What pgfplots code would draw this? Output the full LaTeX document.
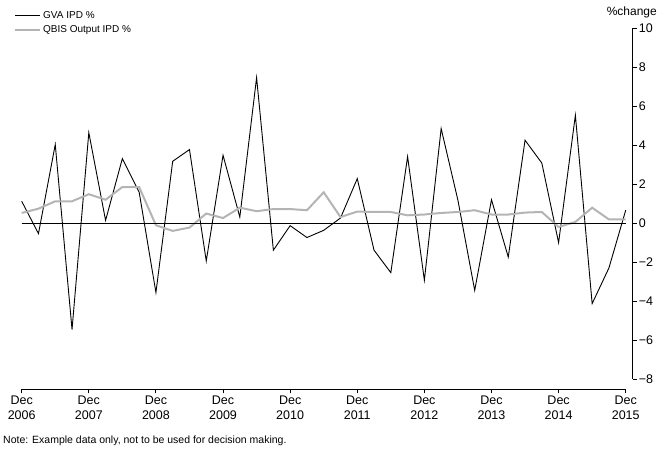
\documentclass[border=0pt]{standalone}
\usepackage{pgfplots}
\pgfplotsset{compat=1.18}
\usepackage{fontspec}
\setmainfont{Liberation Sans}
\definecolor{qbis}{RGB}{180,180,180}
\begin{document}
\begin{tikzpicture}
\begin{axis}[
  at={(0pt,0pt)}, anchor=south west,
  scale only axis, width=611pt, height=361.2pt,
  xmin=0, xmax=36.417, ymin=-8.523, ymax=10,
  axis x line*=bottom, axis y line*=right,
  axis line style={line width=0.9pt, -},
  x axis line style={shorten >=7pt},
  y axis line style={shorten <=10.2pt},
  xtick={0,4,...,36},
  xticklabels={Dec\\2006,Dec\\2007,Dec\\2008,Dec\\2009,Dec\\2010,Dec\\2011,Dec\\2012,Dec\\2013,Dec\\2014,Dec\\2015},
  xticklabel style={align=center, font=\fontsize{12.5}{15}\selectfont, inner sep=2pt},
  ytick={-8,-6,...,10},
  yticklabels={−8,−6,−4,−2,0,2,4,6,8,10},
  yticklabel style={font=\fontsize{12.5}{14}\selectfont, inner sep=2pt},
  tick align=outside, tick style={black, line width=0.9pt},
  major tick length=4pt,
  xtick pos=bottom, ytick pos=right,
  legend style={at={(rel axis cs:0,1)}, anchor=north west, xshift=-7.7pt, yshift=19pt,
    draw=none, fill=none, inner sep=0pt, row sep=2pt,
    font=\fontsize{10}{11}\selectfont, cells={anchor=west}},
  legend image code/.code={\draw[#1] (0pt,0pt) -- (25pt,0pt);},
  clip=false,
]
\addplot[black, line width=0.9pt] coordinates {
(0,1.13) (1,-0.53) (2,4.04) (3,-5.45) (4,4.65) (5,0.15) (6,3.32) (7,1.6) (8,-3.55)
(9,3.18) (10,3.78) (11,-1.93) (12,3.49) (13,0.32) (14,7.47) (15,-1.38) (16,-0.12)
(17,-0.73) (18,-0.36) (19,0.27) (20,2.29) (21,-1.38) (22,-2.53) (23,3.42) (24,-2.92)
(25,4.86) (26,1.18) (27,-3.44) (28,1.21) (29,-1.73) (30,4.26) (31,3.09) (32,-0.99)
(33,5.54) (34,-4.12) (35,-2.29) (36,0.67)};
\addlegendentry{GVA IPD \%}
\addplot[qbis, line width=2pt] coordinates {
(0,0.53) (1,0.75) (2,1.13) (3,1.13) (4,1.49) (5,1.21) (6,1.86) (7,1.86) (8,-0.1)
(9,-0.39) (10,-0.22) (11,0.5) (12,0.27) (13,0.8) (14,0.62) (15,0.73) (16,0.73)
(17,0.67) (18,1.59) (19,0.32) (20,0.6) (21,0.58) (22,0.58) (23,0.41) (24,0.45)
(25,0.53) (26,0.58) (27,0.67) (28,0.45) (29,0.45) (30,0.55) (31,0.58) (32,-0.19)
(33,0.07) (34,0.8) (35,0.2) (36,0.2)};
\addlegendentry{QBIS Output IPD \%}
\addplot[black, line width=0.9pt, forget plot] coordinates {(0,0) (36,0)};
\node[anchor=base east, font=\fontsize{12}{13}\selectfont, inner sep=0pt] at ([xshift=24.3pt,yshift=12.3pt]rel axis cs:1,1) {\%change};
\node[anchor=west, font=\fontsize{10.5}{12}\selectfont, inner sep=0pt] at ([xshift=-18.7pt,yshift=-51.5pt]rel axis cs:0,0) {Note: Example data only, not to be used for decision making.};
\end{axis}
\pgfresetboundingbox
\path[use as bounding box] (-21.7pt,-64.5pt) rectangle (639.3pt,389.5pt);
\end{tikzpicture}
\end{document}
